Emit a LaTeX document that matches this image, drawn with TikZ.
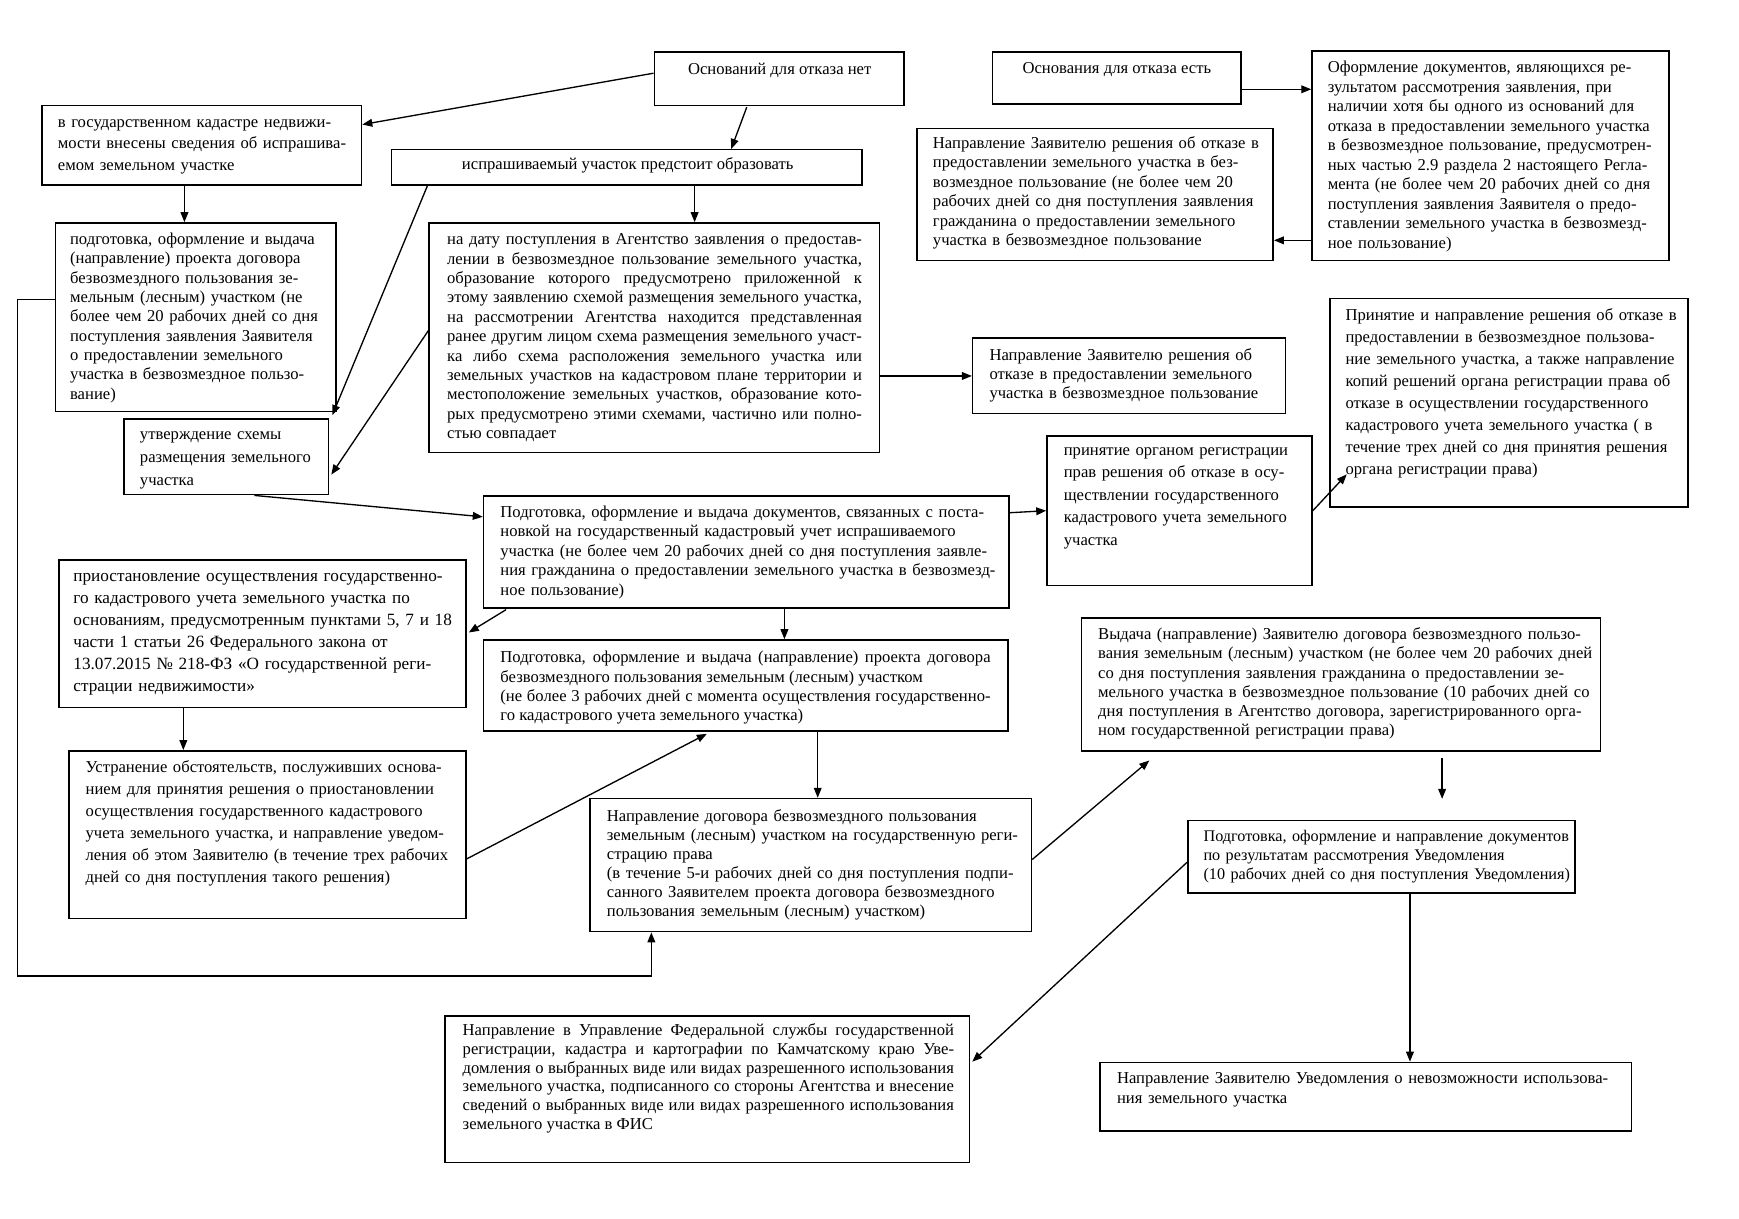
\documentclass[tikz,border=0pt]{standalone}
\usepackage{fontspec}
\setmainfont{Liberation Serif}
\usetikzlibrary{arrows.meta,calc}
\tolerance=10000
\hbadness=10000
\hyphenpenalty=10000
\exhyphenpenalty=10000
\newcommand{\fz}[2][15]{\fontsize{#1}{#2}\selectfont}
\newcommand{\mkbox}[5]{%
  \pgfmathsetmacro{\myCX}{(#2+#4)/2}%
  \pgfmathsetmacro{\myCY}{(#3+#5)/2}%
  \pgfmathsetmacro{\myBW}{#4-#2}%
  \pgfmathsetmacro{\myBH}{#5-#3}%
  \node[box, minimum width=\myBW pt, minimum height=\myBH pt] (#1) at (\myCX,\myCY) {};}
\begin{document}
\begin{tikzpicture}[x=1pt,y=-1pt,
  box/.style={draw, line width=1.4pt, inner sep=0pt},
  tx/.style={inner sep=0pt, anchor=north west, align=left, text width=#1 pt},
  tj/.style={inner sep=0pt, anchor=north west, align=justify, text width=#1 pt},
  tc/.style={inner sep=0pt, anchor=north, align=center},
  arr/.style={line width=1.2pt, -{Triangle[length=9pt,width=7pt]}}]
\fill[white] (0,0) rectangle (1568,1099);
\useasboundingbox (0,0) rectangle (1568,1099);

% boxes
\mkbox{A}{590}{47}{815}{95}
\mkbox{B}{895}{47}{1119}{94}
\mkbox{C}{1183}{46}{1505}{235}
\mkbox{D}{827}{116}{1148}{235}
\mkbox{E}{38}{95}{326}{167}
\mkbox{F}{353}{135}{777}{167}
\mkbox{G}{50}{201}{303}{371}
\mkbox{H}{387}{201}{793}{408}
\mkbox{I}{877}{305}{1159}{373}
\mkbox{J}{1199}{269}{1522}{457}
\mkbox{K}{112}{378}{296}{446}
\mkbox{L}{944}{393}{1183}{528}
\mkbox{M}{436}{447}{910}{548}
\mkbox{N}{53}{505}{420}{638}
\mkbox{O}{436}{577}{909}{659}
\mkbox{P}{975}{557}{1443}{677}
\mkbox{Q}{62}{677}{420}{828}
\mkbox{R}{532}{720}{930}{840}
\mkbox{S}{1071}{740}{1420}{805}
\mkbox{T}{401}{916}{874}{1048}
\mkbox{U}{992}{958}{1471}{1020}

% texts
\node[tc, font=\fz{17.5}] (tA) at (703,55) {\strut Оснований для отказа нет};
\node[tc, font=\fz{17.5}] (tB) at (1007,54) {\strut Основания для отказа есть};
\node[tc, font=\fz{17.5}] (tF) at (566,140) {\strut испрашиваемый участок предстоит образовать};

\node[tx=305, font=\fz{17.55}] (tC) at (1197,53.2) {\strut Оформление документов, являющихся ре-\\
зультатом рассмотрения заявления, при\\
наличии хотя бы одного из оснований для\\
отказа в предоставлении земельного участка\\
в безвозмездное пользование, предусмотрен-\\
ных частью 2.9 раздела 2 настоящего Регла-\\
мента (не более чем 20 рабочих дней  со дня\\
поступления заявления Заявителя о предо-\\
ставлении земельного участка в безвозмезд-\\
ное пользование)};

\node[tx=305, font=\fz{17.6}] (tD) at (841,121.2) {\strut Направление Заявителю решения об отказе в\\
предоставлении земельного участка в без-\\
возмездное пользование (не более чем 20\\
рабочих дней  со дня поступления заявления\\
гражданина о предоставлении земельного\\
участка в безвозмездное пользование};

\node[tx=272, font=\fz{19.5}] (tE) at (52,100.7) {\strut в государственном кадастре недвижи-\\
мости внесены сведения об испрашива-\\
емом земельном участке};

\node[tx=238, font=\fz{17.4}] (tG) at (63,208.2) {\strut подготовка, оформление и выдача\\
(направление) проекта договора\\
безвозмездного пользования зе-\\
мельным (лесным) участком (не\\
более чем 20 рабочих дней  со дня\\
поступления заявления Заявителя\\
о предоставлении земельного\\
участка в безвозмездное пользо-\\
вание)};

\node[tj=374, font=\fz{17.5}] (tH) at (403,208.2) {\strut на дату поступления в Агентство заявления о предостав-\linebreak
лении в безвозмездное пользование земельного участка,\linebreak
образование которого предусмотрено приложенной к\linebreak
этому заявлению схемой размещения земельного участка,\linebreak
на рассмотрении Агентства находится представленная\linebreak
ранее другим лицом схема размещения земельного участ-\linebreak
ка либо схема расположения земельного участка или\linebreak
земельных участков на кадастровом плане территории и\linebreak
местоположение земельных участков, образование кото-\linebreak
рых предусмотрено этими схемами, частично или полно-\linebreak
стью совпадает};

\node[tx=262, font=\fz{17.5}] (tI) at (892,312.2) {\strut Направление Заявителю решения об\\
отказе в предоставлении земельного\\
участка в безвозмездное пользование};

\node[tx=305, font=\fz{19.86}] (tJ) at (1213,274.5) {\strut Принятие и направление решения об отказе в\\
предоставлении в безвозмездное пользова-\\
ние земельного участка, а также направление\\
копий решений органа регистрации права об\\
отказе в осуществлении государственного\\
кадастрового учета земельного участка ( в\\
течение трех дней со дня принятия решения\\
органа регистрации права)};

\node[tx=168, font=\fz{20.5}] (tK) at (126,382) {\strut утверждение схемы\\
размещения земельного\\
участка};

\node[tx=222, font=\fz{20.25}] (tL) at (959,396.2) {\strut принятие органом регистрации\\
прав решения об отказе в осу-\\
ществлении государственного\\
кадастрового учета земельного\\
участка};

\node[tx=455, font=\fz{17.5}] (tM) at (451,454.2) {\strut Подготовка, оформление и выдача документов, связанных с поста-\\
новкой  на государственный кадастровый учет испрашиваемого\\
участка  (не более чем 20 рабочих дней  со дня поступления заявле-\\
ния гражданина о предоставлении земельного участка в безвозмезд-\\
ное пользование)};

\node[tx=352, font={\fz[15.5]{19.8}}] (tN) at (66,510.6) {\strut приостановление осуществления государственно-\\
го кадастрового учета земельного участка по\\
основаниям, предусмотренным пунктами 5, 7 и 18\\
части 1 статьи 26 Федерального закона от\\
13.07.2015 № 218-ФЗ  «О государственной реги-\\
страции недвижимости»};

\node[tj=442, font=\fz{17.33}] (tO) at (451,585.3) {\strut Подготовка, оформление и выдача (направление) проекта договора\linebreak
безвозмездного пользования земельным (лесным) участком\\
(не более 3 рабочих дней с момента осуществления государственно-\linebreak
го кадастрового учета земельного участка)};

\node[tx=448, font=\fz{17.4}] (tP) at (990,564.2) {\strut Выдача (направление) Заявителю договора безвозмездного пользо-\\
вания земельным (лесным) участком (не более чем 20 рабочих дней\\
со дня поступления заявления гражданина о предоставлении зе-\\
мельного участка в безвозмездное пользование (10 рабочих дней со\\
дня поступления в Агентство договора, зарегистрированного орга-\\
ном государственной регистрации права)};

\node[tx=335, font=\fz{19.8}] (tQ) at (77,682.5) {\strut Устранение обстоятельств, послуживших основа-\\
нием для принятия решения о приостановлении\\
осуществления государственного кадастрового\\
учета земельного участка, и направление уведом-\\
ления об этом Заявителю (в течение трех рабочих\\
дней со дня поступления такого решения)};

\node[tx=378, font=\fz{17.2}] (tR) at (547,728.4) {\strut Направление договора безвозмездного пользования\\
земельным (лесным) участком на государственную реги-\\
страцию права\\
(в течение 5-и рабочих дней со дня поступления подпи-\\
санного Заявителем проекта договора безвозмездного\\
пользования земельным (лесным) участком)};

\node[tx=360, font={\fz[14.6]{17}}] (tS) at (1085,746.5) {\strut Подготовка, оформление и направление документов\\
по результатам рассмотрения Уведомления\\
(10 рабочих дней со дня поступления Уведомления)};

\node[tj=443, font=\fz{17}] (tT) at (417,921.5) {\strut Направление в Управление Федеральной службы государственной\linebreak
регистрации, кадастра и картографии по Камчатскому краю Уве-\linebreak
домления о выбранных виде или видах разрешенного использования\linebreak
земельного участка, подписанного со стороны Агентства и внесение\linebreak
сведений о выбранных виде или видах разрешенного использования\linebreak
земельного участка в ФИС};

\node[tx=458, font=\fz{18}] (tU) at (1007,963.8) {\strut Направление Заявителю Уведомления о невозможности использова-\\
ния земельного участка};

% connectors
\draw[arr] ($(A.west)+(0,-5)$) -- ($(E.north east)+(0,18)$);
\draw[arr] ($(A.south west)+(84,1)$) -- ($(F.north west)+(307,0)$);
\draw[arr] ($(F.south west)+(274,0)$) -- ($(H.north west)+(240,0)$);
\draw[arr] ($(E.south west)+(129,0)$) -- ($(G.north west)+(117,0)$);
\draw[arr] ($(F.south west)+(33,0)$) -- ($(K.north east)+(3,-3)$);
\draw[arr] ($(H.west)+(0,-6.5)$) -- ($(K.east)+(2,16)$);
\coordinate (lc) at (16,880);
\draw[arr] ($(G.west)+(0,-16)$) -| (lc) -| ($(R.south west)+(56,0)$);
\draw[arr] ($(K.south west)+(118,0)$) -- ($(M.west)+(0,-31.5)$);
\draw[arr] (H.east |- I.west) -- (I.west);
\draw[arr] ($(M.north east)+(0,16)$) -- (L.west);
\draw[arr] (L.east) -- ($(J.south west)+(16,-30)$);
\draw[arr] ($(B.east)+(0,10)$) -- ($(C.west |- B.east)+(0,10)$);
\draw[arr] ($(C.south west)+(0,-19)$) -- ($(D.east |- C.south west)+(0,-19)$);
\draw[arr] ($(M.south west)+(272,0)$) -- ($(O.north west)+(272,0)$);
\draw[arr] ($(M.south west)+(21,1)$) -- ($(N.north east)+(2,66)$);
\draw[arr] ($(N.south west)+(113,0)$) -- ($(Q.north west)+(104,0)$);
\draw[arr] ($(Q.east)+(0,22)$) -- ($(O.south west)+(202,2)$);
\draw[arr] ($(O.south west)+(302,0)$) -- ($(R.north west)+(206,0)$);
\draw[arr] ($(R.east)+(0,-5)$) -- ($(P.south west)+(62,8)$);
\draw[arr] ($(P.south west)+(326,6)$) -- ($(S.north west)+(230,-19)$);
\draw[arr] ($(S.west)+(0,5)$) -- ($(T.north east)+(2,42)$);
\draw[arr] ($(S.south west)+(201,0)$) -- ($(U.north west)+(280,0)$);
\end{tikzpicture}
\end{document}
